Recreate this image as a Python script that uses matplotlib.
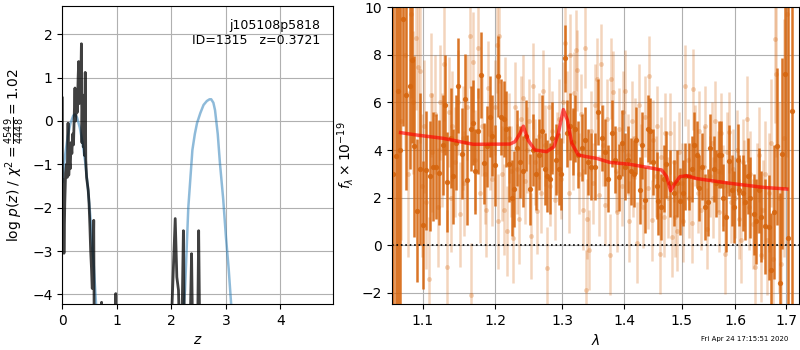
import numpy as np
import matplotlib
matplotlib.use("Agg")
import matplotlib.pyplot as plt
from matplotlib.ticker import NullLocator, FixedLocator, FixedFormatter

# ---------------- left panel: p(z) ----------------
pz_z = [0.000, 0.004, 0.012, 0.022, 0.030, 0.045, 0.060, 0.075, 0.090, 0.105,
        0.118, 0.130, 0.145, 0.160, 0.175, 0.190, 0.205, 0.220, 0.232, 0.245,
        0.260, 0.275, 0.290, 0.300, 0.310, 0.322, 0.335, 0.350, 0.360, 0.372,
        0.385, 0.398, 0.410, 0.420, 0.430, 0.445, 0.460, 0.475, 0.490, 0.505,
        0.520, 0.535, 0.548, 0.560, 0.576, 0.585, 0.715, 0.720, 0.725, 0.975,
        0.980, 0.985, 2.000, 2.010, 2.070, 2.100, 2.130, 2.150, 2.190, 2.220,
        2.240, 2.340, 2.370, 2.390, 2.480, 2.500, 2.520, 3.000]
pz_logp = [0.53, -2.3, -1.35, -2.2, -3.05, -1.9, -1.2, -1.0, -1.3, -0.05,
           -1.25, -0.9, -1.1, -0.5, -0.75, -0.3, -0.55, 0.2, 0.76, 0.0,
           0.5, 0.2, 1.0, 1.37, 0.4, 1.1, 0.5, 1.78, -0.5, 0.6,
           -0.6, -0.2, -0.8, 1.12, -0.9, -1.3, -1.45, -1.6, -1.9, -2.4,
           -3.0, -3.4, -3.86, -3.8, -2.29, -5.0, -5.0, -4.18, -5.0, -5.0,
           -3.98, -5.0, -5.0, -4.3, -2.25, -3.6, -3.9, -5.0, -5.0, -2.53,
           -5.0, -5.0, -3.06, -5.0, -5.0, -2.53, -5.0, -5.0]

prior_z1 = [0.00, 0.05, 0.10, 0.15, 0.20, 0.23, 0.27, 0.32, 0.37, 0.42,
            0.47, 0.52, 0.57, 0.62, 0.66]
prior_v1 = [-1.4, -0.8, -0.35, -0.05, 0.12, 0.15, 0.08, -0.15, -0.5, -0.95,
            -1.55, -2.3, -3.2, -4.25, -5.0]
prior_z2 = [2.18, 2.25, 2.31, 2.385, 2.43, 2.47, 2.53, 2.59, 2.65, 2.70,
            2.73, 2.77, 2.80, 2.85, 2.89, 2.95, 3.00, 3.05, 3.10, 3.13]
prior_v2 = [-5.0, -3.9, -2.0, -0.67, -0.3, -0.05, 0.18, 0.37, 0.46, 0.5,
            0.5, 0.42, 0.25, -0.3, -0.97, -1.8, -2.67, -3.4, -4.3, -5.0]

z_ticks = [0, 1, 2, 3, 4]
logp_ticks = [-4, -3, -2, -1, 0, 1, 2]

# ---------------- right panel: spectrum ----------------
bin_wave = [1.062, 1.065, 1.068, 1.071, 1.075, 1.078, 1.083, 1.086, 1.089, 1.093,
            1.096, 1.101, 1.105, 1.110, 1.114, 1.118, 1.122, 1.127, 1.130, 1.133,
            1.138, 1.141, 1.145, 1.148, 1.153, 1.157, 1.160, 1.165, 1.168, 1.171,
            1.175, 1.179, 1.184, 1.188, 1.192, 1.196, 1.199, 1.204, 1.208, 1.212,
            1.216, 1.220, 1.224, 1.227, 1.231, 1.236, 1.241, 1.245, 1.251, 1.255,
            1.260, 1.264, 1.269, 1.273, 1.276, 1.281, 1.285, 1.290, 1.295, 1.299,
            1.305, 1.308, 1.312, 1.317, 1.321, 1.325, 1.331, 1.336, 1.341, 1.346,
            1.352, 1.357, 1.363, 1.368, 1.374, 1.380, 1.385, 1.391, 1.396, 1.402,
            1.406, 1.412, 1.417, 1.421, 1.427, 1.431, 1.436, 1.441, 1.445, 1.450,
            1.456, 1.459, 1.463, 1.468, 1.473, 1.480, 1.486, 1.492, 1.497, 1.503,
            1.507, 1.513, 1.518, 1.522, 1.527, 1.532, 1.537, 1.543, 1.548, 1.552,
            1.559, 1.563, 1.568, 1.572, 1.577, 1.582, 1.587, 1.593, 1.598, 1.604,
            1.607, 1.614, 1.618, 1.625, 1.629, 1.635, 1.640, 1.645, 1.650, 1.658,
            1.665, 1.669, 1.675, 1.682, 1.687, 1.692, 1.697, 1.704, 1.713]
bin_flux = [3.0, 3.75, 6.5, 4.0, 9.5, 6.3, 6.7, 7.8, 4.15, 1.45,
            3.2, 0.85, 3.15, 2.9, 3.3, 3.3, 3.05, 4.2, 5.9, 2.65,
            4.5, 2.9, 4.3, 6.7, 3.85, 6.15, 2.75, 4.9, 5.15, 3.1,
            4.8, 7.15, 3.45, 4.15, 5.4, 4.6, 3.35, 7.1, 5.4, 5.3,
            4.9, 3.4, 2.0, 2.35, 4.1, 3.5, 3.1, 4.6, 2.35, 4.0,
            3.0, 3.8, 4.8, 3.2, 2.9, 2.8, 4.5, 3.6, 3.2, 3.0,
            7.85, 4.7, 5.0, 4.35, 4.9, 3.8, 4.1, 4.4, 3.5, 3.3,
            3.3, 5.6, 4.5, 3.9, 2.8, 4.7, 3.6, 2.85, 4.3, 3.3,
            3.6, 3.1, 3.0, 4.4, 2.3, 4.2, 1.9, 4.9, 4.8, 3.5,
            2.5, 1.85, 1.6, 2.8, 3.4, 2.6, 2.2, 2.6, 1.85, 2.2,
            2.9, 2.9, 3.2, 4.2, 3.8, 2.4, 3.3, 1.6, 1.8, 4.1,
            3.2, 2.6, 3.8, 3.8, 2.0, 1.2, 3.55, 2.3, 1.6, 3.6,
            2.3, 2.2, 1.8, 2.9, 2.0, 1.3, 1.0, 2.3, 1.2, 0.8,
            0.75, -1.05, 1.4, 4.15, -1.6, 3.85, 7.2, 0.3, 5.65]
bin_err = [15.0, 12.0, 10.0, 10.0, 4.5, 4.0, 3.5, 3.5, 3.8, 3.0,
           3.2, 2.7, 2.5, 2.3, 2.3, 2.2, 2.2, 2.1, 2.1, 2.1,
           2.1, 2.0, 2.0, 2.0, 1.9, 1.9, 1.9, 1.8, 1.8, 1.8,
           1.8, 1.8, 1.7, 1.7, 1.7, 1.7, 1.7, 1.7, 1.6, 1.6,
           1.6, 1.6, 1.6, 1.6, 1.6, 1.5, 1.5, 1.5, 1.5, 1.5,
           1.5, 1.5, 1.5, 1.5, 1.5, 1.5, 1.5, 1.5, 1.5, 1.5,
           1.4, 1.4, 1.4, 1.4, 1.4, 1.4, 1.4, 1.4, 1.4, 1.4,
           1.4, 1.4, 1.4, 1.4, 1.4, 1.4, 1.4, 1.4, 1.4, 1.4,
           1.4, 1.4, 1.4, 1.4, 1.4, 1.4, 1.4, 1.4, 1.4, 1.4,
           1.4, 1.4, 1.4, 1.4, 1.4, 1.4, 1.4, 1.4, 1.4, 1.4,
           1.4, 1.4, 1.4, 1.4, 1.4, 1.4, 1.4, 1.4, 1.4, 1.4,
           1.4, 1.4, 1.4, 1.4, 1.4, 1.5, 1.5, 1.5, 1.5, 1.5,
           1.5, 1.6, 1.6, 1.6, 1.7, 1.7, 1.8, 1.8, 1.9, 2.0,
           2.2, 2.4, 2.8, 3.3, 3.8, 4.0, 4.8, 10.0, 15.0]

raw_wave = [1.072, 1.077, 1.081, 1.085, 1.087, 1.091, 1.094, 1.096, 1.099, 1.102,
            1.105, 1.108, 1.111, 1.113, 1.117, 1.120, 1.123, 1.126, 1.129, 1.132,
            1.135, 1.138, 1.140, 1.144, 1.147, 1.151, 1.154, 1.156, 1.160, 1.164,
            1.166, 1.168, 1.171, 1.175, 1.178, 1.181, 1.185, 1.187, 1.189, 1.192,
            1.195, 1.199, 1.202, 1.204, 1.206, 1.209, 1.212, 1.214, 1.217, 1.220,
            1.223, 1.226, 1.229, 1.231, 1.234, 1.237, 1.240, 1.243, 1.246, 1.249,
            1.252, 1.256, 1.259, 1.262, 1.265, 1.268, 1.271, 1.273, 1.276, 1.279,
            1.282, 1.285, 1.289, 1.292, 1.295, 1.298, 1.301, 1.304, 1.307, 1.310,
            1.313, 1.317, 1.319, 1.322, 1.324, 1.327, 1.330, 1.333, 1.336, 1.338,
            1.340, 1.343, 1.346, 1.349, 1.352, 1.356, 1.359, 1.362, 1.366, 1.369,
            1.372, 1.376, 1.379, 1.382, 1.386, 1.389, 1.392, 1.396, 1.399, 1.402,
            1.406, 1.409, 1.413, 1.416, 1.419, 1.422, 1.426, 1.429, 1.433, 1.436,
            1.440, 1.443, 1.447, 1.450, 1.454, 1.457, 1.461, 1.464, 1.468, 1.471,
            1.475, 1.479, 1.482, 1.486, 1.489, 1.492, 1.496, 1.500, 1.503, 1.507,
            1.511, 1.514, 1.518, 1.521, 1.525, 1.529, 1.532, 1.536, 1.540, 1.543,
            1.547, 1.551, 1.555, 1.558, 1.562, 1.566, 1.569, 1.573, 1.577, 1.580,
            1.584, 1.588, 1.592, 1.596, 1.599, 1.603, 1.607, 1.610, 1.614, 1.617,
            1.622, 1.626, 1.629, 1.633, 1.638, 1.642, 1.645, 1.650, 1.653, 1.657,
            1.662, 1.665, 1.669, 1.673, 1.678, 1.680, 1.685, 1.690, 1.696, 1.701]
raw_flux = [5.2, 8.0, 3.0, 9.7, 6.0, 8.7, 7.5, 7.3, 2.5, 5.0,
            1.8, -1.4, 6.3, 3.9, 5.5, 1.6, 6.0, 4.0, 7.6, -0.9,
            5.6, 2.0, 5.0, 3.5, 6.0, 1.3, 4.5, 2.6, 5.8, 8.8,
            -2.1, 7.7, 3.6, 8.3, 2.2, 5.0, 3.0, 1.5, 6.6, 4.3,
            2.8, 5.8, 8.4, 1.0, 8.8, 3.0, 1.5, 6.0, 0.6, 4.5,
            3.1, 0.3, 5.8, 3.2, 1.1, 5.3, 6.2, 2.7, 4.0, 5.2,
            0.4, 6.7, 3.5, 1.45, 4.6, 2.2, 6.5, 4.2, -0.95, 5.8,
            2.5, 4.8, 1.9, 3.9, 5.3, 2.8, 6.0, 8.5, 5.6, 2.2,
            8.0, 4.0, 6.4, 8.2, 7.35, 3.0, 5.5, 1.5, 8.3, -1.9,
            1.1, -0.2, 4.8, 2.6, 5.9, 7.0, 2.1, 7.6, 4.2, 1.7,
            5.3, -0.4, 7.0, 6.45, 3.1, 1.4, 4.9, 2.5, 5.6, 6.5,
            3.8, 1.0, 5.2, 2.9, 4.5, 0.1, 5.9, 3.4, 1.6, 5.4,
            2.4, 7.1, 1.05, 4.4, 2.9, 5.0, -0.35, 3.7, 1.2, 4.7,
            2.0, 4.7, 0.35, 3.5, 1.2, 0.6, 3.9, 2.6, 1.0, 6.7,
            3.6, 2.0, 0.95, 6.55, 4.2, 2.2, 4.8, 1.5, 3.3, 5.0,
            0.7, 2.9, 4.3, 2.0, 5.2, 3.1, 1.4, 4.7, 2.5, -0.35,
            3.9, 4.75, 1.8, 3.2, 2.0, 4.0, 1.1, 0.2, 3.5, 2.6,
            5.3, 1.6, 3.0, 0.9, -0.9, 2.4, 3.8, -0.4, 1.5, 3.0,
            0.2, 2.2, 4.3, -0.6, 8.65, 7.2, 2.0, -0.8, 4.5, 9.7]
raw_err = [5.0, 4.0, 3.5, 3.5, 3.0, 3.0, 3.0, 3.0, 3.0, 2.8,
           2.8, 2.6, 2.6, 2.5, 2.5, 2.5, 2.4, 2.4, 2.4, 2.4,
           2.3, 2.3, 2.3, 2.3, 2.2, 2.2, 2.2, 2.2, 2.2, 2.2,
           2.2, 2.1, 2.1, 2.1, 2.1, 2.1, 2.1, 2.0, 2.0, 2.0,
           2.0, 2.0, 2.0, 2.0, 2.0, 2.0, 1.9, 1.9, 1.9, 1.9,
           1.9, 1.9, 1.9, 1.9, 1.9, 1.8, 1.8, 1.8, 1.8, 1.8,
           1.8, 1.8, 1.8, 1.8, 1.8, 1.7, 1.7, 1.7, 1.7, 1.7,
           1.7, 1.7, 1.7, 1.7, 1.7, 1.7, 1.7, 1.7, 1.7, 1.7,
           1.7, 1.7, 1.7, 1.7, 1.7, 1.7, 1.7, 1.7, 1.7, 1.7,
           1.7, 1.7, 1.7, 1.7, 1.7, 1.7, 1.7, 1.7, 1.7, 1.7,
           1.7, 1.7, 1.7, 1.7, 1.7, 1.7, 1.7, 1.7, 1.7, 1.7,
           1.7, 1.7, 1.7, 1.7, 1.7, 1.7, 1.7, 1.7, 1.7, 1.7,
           1.7, 1.7, 1.7, 1.7, 1.7, 1.7, 1.7, 1.7, 1.7, 1.7,
           1.7, 1.7, 1.7, 1.7, 1.7, 1.7, 1.7, 1.7, 1.7, 1.7,
           1.7, 1.7, 1.7, 1.7, 1.7, 1.7, 1.7, 1.7, 1.7, 1.7,
           1.7, 1.7, 1.7, 1.7, 1.7, 1.7, 1.7, 1.7, 1.7, 1.7,
           1.7, 1.7, 1.7, 1.7, 1.7, 1.7, 1.7, 1.8, 1.8, 1.8,
           1.8, 1.8, 1.8, 1.9, 1.9, 1.9, 2.0, 2.0, 2.1, 2.2,
           2.3, 2.5, 2.7, 3.0, 3.5, 3.5, 4.0, 4.5, 5.0, 6.0]

model_wave = [1.0714, 1.0921, 1.1275, 1.1688, 1.2213, 1.2287, 1.2361, 1.2410, 1.2484, 1.2584,
              1.2762, 1.2874, 1.2941, 1.3019, 1.3082, 1.3151, 1.3255, 1.3387, 1.3547, 1.3765,
              1.4100, 1.4442, 1.4646, 1.4734, 1.4805, 1.4882, 1.4970, 1.5091, 1.5272, 1.5900,
              1.6542, 1.7015]
model_flux = [4.73, 4.63, 4.49, 4.24, 4.25, 4.35, 4.7, 5.0, 4.4, 4.0,
              3.93, 4.14, 4.7, 5.7, 5.26, 4.28, 3.79, 3.72, 3.65, 3.48,
              3.4, 3.25, 3.16, 2.88, 2.29, 2.6, 2.88, 2.92, 2.8, 2.6,
              2.43, 2.36]

wave_ticks = [1.1, 1.2, 1.3, 1.4, 1.5, 1.6, 1.7]
wave_labels = ['1.1', '1.2', '1.3', '1.4', '1.5', '1.6', '1.7']
flux_ticks = [-2, 0, 2, 4, 6, 8, 10]

obj_name = 'j105108p5818'
obj_info = 'ID=1315   z=0.3721'
stamp = 'Fri Apr 24 17:15:51 2020'

# ---------------- figure ----------------
fig = plt.figure(figsize=(8, 3.5), dpi=100)
ax1 = fig.add_axes([0.0779, 0.1314, 0.3388, 0.8514])
ax2 = fig.add_axes([0.4896, 0.1314, 0.5095, 0.8494])

ax1.plot(prior_z1, prior_v1, color='#1f77b4', alpha=0.5, lw=1.8, zorder=2)
ax1.plot(prior_z2, prior_v2, color='#1f77b4', alpha=0.5, lw=1.8, zorder=2)
ax1.plot(pz_z, pz_logp, color='k', alpha=0.75, lw=2, zorder=3)
ax1.set_xlim(0, 4.97)
ax1.set_ylim(-4.22, 2.65)
ax1.set_xticks(z_ticks)
ax1.set_yticks(logp_ticks)
ax1.grid(True, color='#b0b0b0', lw=0.8)
ax1.set_axisbelow(True)
ax1.set_xlabel('$z$')
ax1.set_ylabel(r'$\log\,p(z)$ / $\chi^2=\frac{4549}{4448}=1.02$')
ax1.text(0.95, 0.955, obj_name + '\n' + obj_info, transform=ax1.transAxes,
         ha='right', va='top', fontsize=9, linespacing=1.2)

ocol = '#d6660f'
ax2.errorbar(raw_wave, raw_flux, yerr=raw_err, fmt='o', color=ocol, alpha=0.28,
             ms=3.5, elinewidth=1.8, capsize=0, mec='none', zorder=1)
ax2.errorbar(bin_wave, bin_flux, yerr=bin_err, fmt='o', color=ocol, alpha=0.9,
             ms=3.8, elinewidth=1.8, capsize=0, mec='none', zorder=2)
ax2.plot(model_wave, model_flux, color='r', alpha=0.65, lw=2.5, zorder=3)
ax2.axhline(0, color='k', ls=':', lw=1.2, zorder=4)
ax2.set_xscale('log')
ax2.set_xlim(1.06, 1.727)
ax2.set_ylim(-2.47, 10.02)
ax2.xaxis.set_major_locator(FixedLocator(wave_ticks))
ax2.xaxis.set_major_formatter(FixedFormatter(wave_labels))
ax2.xaxis.set_minor_locator(NullLocator())
ax2.set_yticks(flux_ticks)
ax2.grid(True, color='#b0b0b0', lw=0.8)
ax2.set_axisbelow(True)
ax2.set_xlabel(r'$\lambda$')
ax2.set_ylabel(r'$f_\lambda\times10^{-19}$')

fig.text(0.985, 0.03, stamp, ha='right', va='center', fontsize=5)

fig.savefig('out.png', dpi=100)
